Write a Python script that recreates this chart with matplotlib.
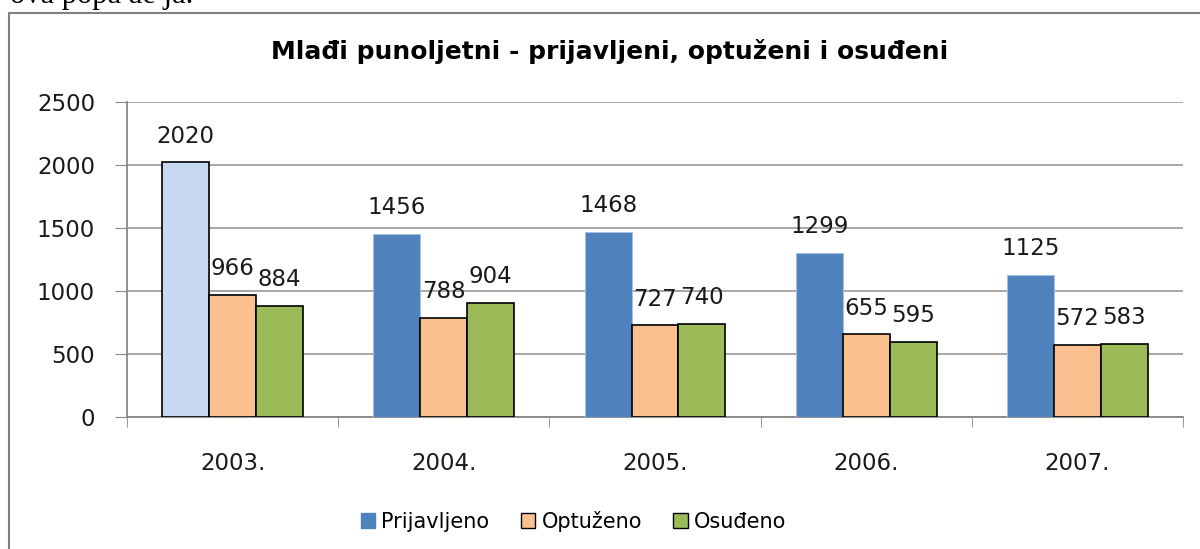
import numpy as np
import matplotlib.pyplot as plt
from matplotlib.patches import Rectangle, Patch

years = ["2003.", "2004.", "2005.", "2006.", "2007."]
prijavljeno = [2020, 1456, 1468, 1299, 1125]
optuzeno = [966, 788, 727, 655, 572]
osudeno = [884, 904, 740, 595, 583]

series = ["Prijavljeno", "Optuženo", "Osuđeno"]
colors = ["#4F81BD", "#FAC090", "#9BBB59"]

fig = plt.figure(figsize=(12, 5.49), dpi=100)

# outer frame of the chart object
fig.patches.append(Rectangle((9 / 1200, -0.05), 1.2, 1 - 13 / 549 + 0.05,
                             transform=fig.transFigure, fill=False,
                             edgecolor="#808080", linewidth=1.5))
# cut-off line of document text above the chart
fig.text(10 / 1200, 1 + 4 / 549, "ova popa ae ja.", family="Liberation Serif",
         fontsize=22, va="center", ha="left", color="black")

ax = fig.add_axes([127 / 1200, 1 - 417 / 549, (1183 - 127) / 1200, (417 - 102) / 549])

x = np.arange(len(years))
w = 0.222

b1 = ax.bar(x - w, prijavljeno, w, color=colors[0], edgecolor="#A7BFDE", linewidth=0.8, zorder=3)
# first bar is highlighted in the original
b1[0].set_facecolor("#C6D9F1")
b1[0].set_edgecolor("black")
b1[0].set_linewidth(1.2)
ax.bar(x, optuzeno, w, color=colors[1], edgecolor="black", linewidth=1.2, zorder=3)
ax.bar(x + w, osudeno, w, color=colors[2], edgecolor="black", linewidth=1.2, zorder=3)

for off, vals in [(-w, prijavljeno), (0, optuzeno), (w, osudeno)]:
    for xi, v in zip(x, vals):
        ax.annotate(str(v), (xi + off, v), xytext=(0, 19), textcoords="offset points",
                    ha="center", va="center", fontsize=16.5, color="#1a1a1a")

ax.set_xlim(-0.5, len(years) - 0.5)
ax.set_ylim(0, 2500)
ax.set_yticks(range(0, 2501, 500))
ax.set_xticks(x)
ax.set_xticklabels(years)
ax.set_xticks(np.arange(-0.5, len(years)), minor=True)
ax.tick_params(axis="x", which="major", length=0, pad=25, labelsize=16.5, labelcolor="#1a1a1a")
ax.tick_params(axis="x", which="minor", length=7, color="#888888", direction="out")
ax.tick_params(axis="y", length=9, color="#888888", pad=14, labelsize=16.5, labelcolor="#1a1a1a")
ax.grid(axis="y", color="#A0A0A0", linewidth=1.3, zorder=0)
for s in ["top", "right"]:
    ax.spines[s].set_visible(False)
ax.spines["left"].set_color("#888888")
ax.spines["bottom"].set_color("#888888")
ax.spines["left"].set_linewidth(1.3)
ax.spines["bottom"].set_linewidth(1.3)

fig.text(0.508, 1 - 52 / 549, "Mlađi punoljetni - prijavljeni, optuženi i osuđeni",
         ha="center", va="center", fontsize=18, fontweight="bold")

handles = [Patch(facecolor=colors[0], edgecolor=colors[0]),
           Patch(facecolor=colors[1], edgecolor="black"),
           Patch(facecolor=colors[2], edgecolor="black")]
fig.legend(handles, series, loc="center", bbox_to_anchor=(0.478, 1 - 521 / 549),
           ncol=3, frameon=False, fontsize=15, handlelength=0.7, handleheight=0.7,
           handletextpad=0.3, columnspacing=1.5)

fig.savefig("out.png", dpi=100)
